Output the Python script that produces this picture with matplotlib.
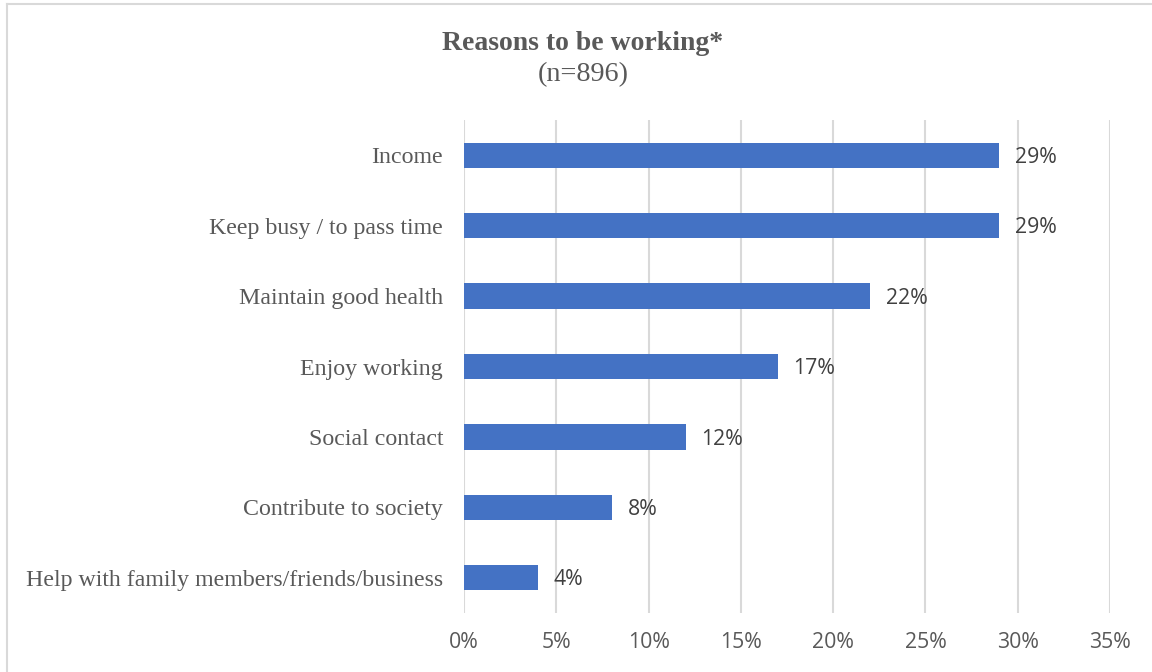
import numpy as np
import matplotlib.pyplot as plt
from matplotlib.lines import Line2D

# Reasons given for working (share of respondents, %)
reasons = [
    "Income",
    "Keep busy / to pass time",
    "Maintain good health",
    "Enjoy working",
    "Social contact",
    "Contribute to society",
    "Help with family members/friends/business",
]
shares = [29, 29, 22, 17, 12, 8, 4]
xticks = [0, 5, 10, 15, 20, 25, 30, 35]

bar_color = "#4472C4"
text_color = "#595959"
grid_color = "#D9D9D9"

fig = plt.figure(figsize=(11.52, 6.72), dpi=100)
ax = fig.add_axes([0.4028, 0.0878, 0.5608, 0.7336])

y = np.arange(len(reasons))[::-1]
ax.barh(y, shares, height=0.36, color=bar_color, zorder=3)

for yi, v in zip(y, shares):
    ax.text(v + 0.85, yi - 0.03, f"{v}%", va="center", ha="left",
            fontsize=15.3, family="Open Sans", color="#404040")

ax.set_xlim(0, 35)
ax.set_ylim(-0.5, len(reasons) - 0.5)
ax.set_xticks(xticks)
ax.set_xticklabels([f"{t}%" for t in xticks], family="Open Sans",
                   fontsize=15.3, color=text_color)
ax.set_yticks(y)
ax.set_yticklabels(reasons, family="Liberation Serif", fontsize=17.2,
                   color=text_color)
ax.tick_params(axis="both", length=0)
ax.tick_params(axis="y", pad=15)
ax.tick_params(axis="x", pad=14)

ax.grid(axis="x", color=grid_color, linewidth=1.5, zorder=0)
for s in ax.spines.values():
    s.set_visible(False)

fig.text(0.506, 0.936, "Reasons to be working*", ha="center", va="center",
         family="Liberation Serif", fontweight="bold", fontsize=20,
         color=text_color)
fig.text(0.506, 0.889, "(n=896)", ha="center", va="center",
         family="Liberation Serif", fontsize=20.3, color=text_color)

# light frame along the top and left edges
fig.add_artist(Line2D([7 / 1152, 1], [1 - 4 / 672, 1 - 4 / 672],
                      transform=fig.transFigure, color=grid_color, lw=1.5))
fig.add_artist(Line2D([7 / 1152, 7 / 1152], [0, 1 - 4 / 672],
                      transform=fig.transFigure, color=grid_color, lw=1.5))

fig.savefig("out.png", dpi=100)
